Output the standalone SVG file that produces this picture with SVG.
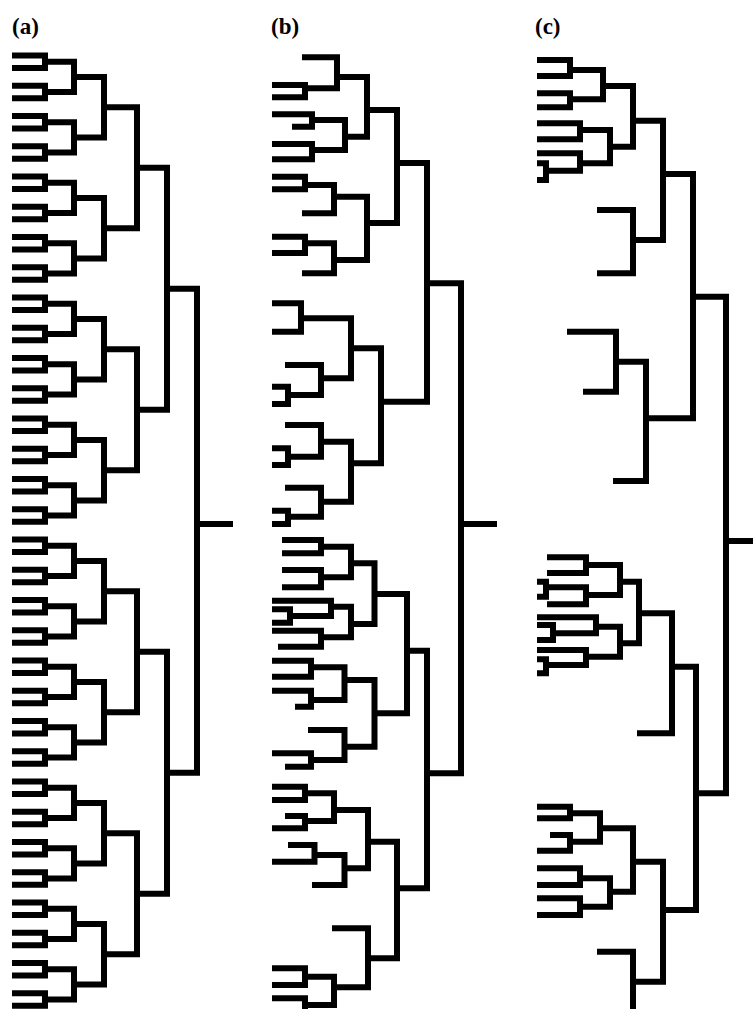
<svg xmlns="http://www.w3.org/2000/svg" width="753" height="1009" viewBox="0 0 753 1009">
<style>
path{fill:none;stroke:#000;stroke-width:6;stroke-linejoin:miter;stroke-linecap:butt}
.lbl{font-family:"Liberation Serif","Times New Roman",serif;font-weight:bold;font-size:23px;fill:#000}
</style>
<defs>
<g id="a1"><path d="M12,0H45V12.5H12"/></g>
<g id="a2"><use href="#a1"/><use href="#a1" y="30.25"/><path d="M45,6.25H74V36.5H45"/></g>
<g id="a3"><use href="#a2"/><use href="#a2" y="60.5"/><path d="M74,21.375H104V81.875H74"/></g>
<g id="a4"><use href="#a3"/><use href="#a3" y="121"/><path d="M104,51.625H137V172.625H104"/></g>
<g id="a5"><use href="#a4"/><use href="#a4" y="242"/><path d="M137,112.125H167V354.125H137"/></g>
</defs>
<rect width="753" height="1009" fill="#fff"/>
<g id="labels">
<g id="label-a"><text class="lbl" x="12" y="34">(a)</text></g>
<g id="label-b"><text class="lbl" x="271" y="34">(b)</text></g>
<g id="label-c"><text class="lbl" x="535" y="34">(c)</text></g>
</g>
<g id="connectors">
<g id="tree-a" transform="translate(0,55.5)">
<use href="#a5"/><use href="#a5" y="484"/>
<path d="M167,233.125H197V717.125H167"/>
<path d="M197,468.5H233"/>
</g>
<g id="tree-b">
<path id="b-B" d="M272,85H305V97.3H272"/>
<path id="b-A" d="M302,57.3H337V88.3H305"/>
<path id="b-C" d="M272,114.3H312V126.7H292"/>
<path id="b-D" d="M272,144H312V159.3H272"/>
<path id="b-CD" d="M312,120H345V150H312"/>
<path id="b-E" d="M337,77H367V136.7H345"/>
<path id="b-F" d="M272,176.7H305V189.3H272"/>
<path id="b-G" d="M305,185H334V213.3H302"/>
<path id="b-H" d="M272,236.7H305V253H272"/>
<path id="b-I" d="M305,243.3H334V273.3H302"/>
<path id="b-J" d="M334,196.7H367V260H334"/>
<path id="b-K" d="M367,110H397V223H367"/>
<path id="b-N" d="M272,303.3H301V331.7H272"/>
<path id="b-O" d="M272,386.7H288V404H272"/>
<path id="b-P" d="M285,365H321V395H288"/>
<path id="b-Q" d="M301,318.3H351V378.3H321"/>
<path id="b-S" d="M272,448.3H288V465H272"/>
<path id="b-T" d="M285,425H321V456.7H288"/>
<path id="b-U" d="M272,510.7H288V524H272"/>
<path id="b-V" d="M285,487.7H321V516.7H288"/>
<path id="b-W" d="M321,441.7H351V501.7H321"/>
<path id="b-R" d="M351,348.3H381V463.3H351"/>
<path id="b-L" d="M397,163H427V401.7H381"/>
<path id="b-X1" d="M282,540H321V553.3H282"/>
<path id="b-X2" d="M282,570H321V587.3H282"/>
<path id="b-X" d="M321,546.7H351V577.3H321"/>
<path id="b-Y1" d="M272,609.3H290V622.7H272"/>
<path id="b-Y2" d="M272,600.7H331V616H290"/>
<path id="b-Y3" d="M272,630.7H321V646.7H278"/>
<path id="b-Y" d="M331,606.7H351V637.3H321"/>
<path id="b-Z" d="M351,563.3H374.5V624H351"/>
<path id="b-AA1" d="M272,660.7H311V676.7H272"/>
<path id="b-AA2" d="M272,690.7H311V706.7H295"/>
<path id="b-AA" d="M311,667.3H344.5V700H311"/>
<path id="b-BB1" d="M272,753.3H311V766.7H285"/>
<path id="b-BB" d="M308,730H344.5V760H311"/>
<path id="b-CC" d="M344.5,680H374.5V746.7H344.5"/>
<path id="b-DD" d="M374.5,594H407V713.3H374.5"/>
<path id="b-FF1" d="M272,786.7H305V800H272"/>
<path id="b-FF2" d="M285,816H305V828.3H272"/>
<path id="b-FF" d="M305,793.3H334V821H305"/>
<path id="b-GG1" d="M288,845H314.5V861.7H272"/>
<path id="b-GG" d="M314.5,855H344.5V885H312"/>
<path id="b-HH" d="M334,810H368V868.3H344.5"/>
<path id="b-II1" d="M272,968.3H305V985H272"/>
<path id="b-II2" d="M272,998.3H305V1012H272"/>
<path id="b-II" d="M305,976.7H334V1005H305"/>
<path id="b-JJ" d="M332,928.3H368V987.3H334"/>
<path id="b-KK" d="M368,841.7H397V958.3H368"/>
<path id="b-EE" d="M407,650.7H427V888.3H397"/>
<path id="b-root" d="M427,283.3H461V773.3H427"/>
<path id="b-stub" d="M461,524H497"/>
</g>
<g id="tree-c">
<path id="c-1" d="M537,60H570V76H537"/>
<path id="c-2" d="M537,93.3H570V107.3H537"/>
<path id="c-12" d="M570,70H603V99.3H570"/>
<path id="c-3" d="M537,123.3H580V139.3H537"/>
<path id="c-4a" d="M537,163.3H546V180H537"/>
<path id="c-4" d="M537,153.3H580V170.7H546"/>
<path id="c-34" d="M580,130H610V163.3H580"/>
<path id="c-5" d="M603,86H633V146.7H610"/>
<path id="c-6" d="M597,210H633V273.3H597"/>
<path id="c-7" d="M633,120.7H663V240H633"/>
<path id="c-8" d="M567,331.7H616V391.7H583"/>
<path id="c-9" d="M616,361.7H646V481H613"/>
<path id="c-10" d="M663,174H693V418.3H646"/>
<path id="c-11a" d="M547,557.3H586V573H547"/>
<path id="c-11s" d="M537,581.7H546V596.7H537"/>
<path id="c-11b" d="M546,587.3H586V604.3H547"/>
<path id="c-11" d="M586,565H620V595H586"/>
<path id="c-12s" d="M537,625H553V640H537"/>
<path id="c-12a" d="M537,617.3H596V633.3H553"/>
<path id="c-12t" d="M537,659.3H546V673.3H537"/>
<path id="c-12b" d="M537,650H586V665H546"/>
<path id="c-12n" d="M596,626.7H620V656.7H586"/>
<path id="c-13" d="M620,581.7H639V643.3H620"/>
<path id="c-14" d="M639,613.3H672V733.3H637"/>
<path id="c-15a" d="M537,806.7H570V818.3H537"/>
<path id="c-15b" d="M550,835H570V850.7H537"/>
<path id="c-15" d="M570,813.3H600V841.7H570"/>
<path id="c-16a" d="M537,868.3H580V885H537"/>
<path id="c-16b" d="M537,898.3H580V915H537"/>
<path id="c-16" d="M580,878.3H610V906.7H580"/>
<path id="c-17" d="M600,828.3H633V891.7H610"/>
<path id="c-18" d="M597,951.7H633V1012H597"/>
<path id="c-19" d="M633,861.7H663V981.7H633"/>
<path id="c-20" d="M672,666.7H696V910H663"/>
<path id="c-root" d="M693,296.7H726V793.3H696"/>
<path id="c-stub" d="M726,541H756"/>
</g>
</g>
</svg>
